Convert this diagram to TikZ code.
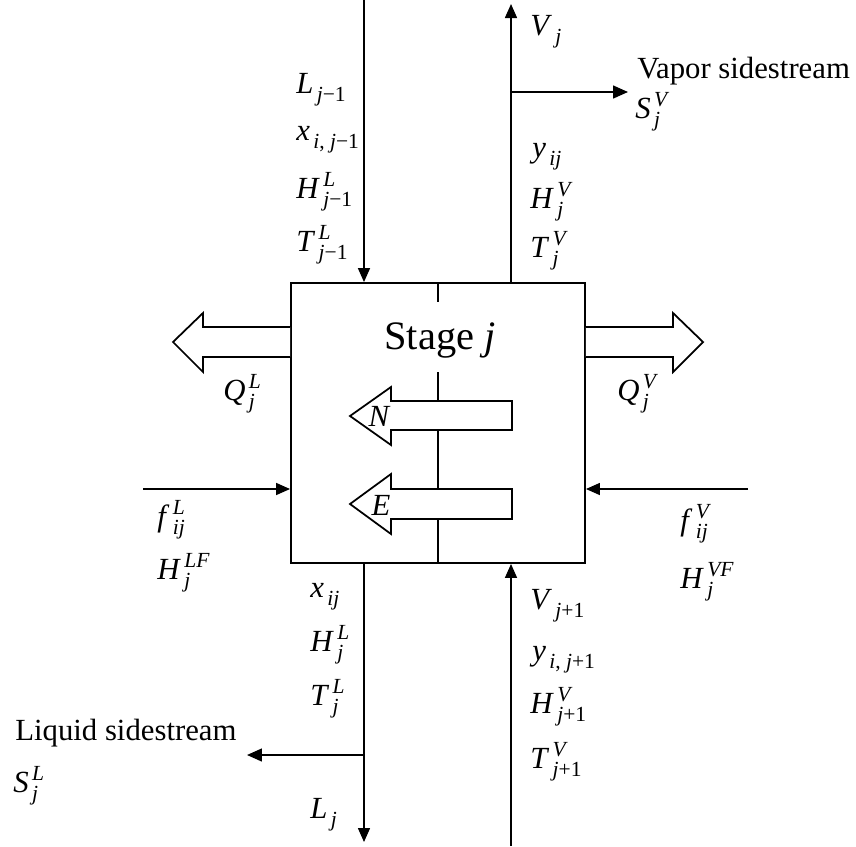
\documentclass[tikz,border=0pt]{standalone}
\usepackage{amsmath}
\usepackage{fontspec}
\setmainfont{Liberation Serif}
\usetikzlibrary{positioning, arrows.meta}

% italic symbol with sub- and superscript, set in the text font
\newcommand{\sym}[3]{$\text{\textit{#1}}\mkern2mu^{\text{#3}}_{\text{#2}}$}

\begin{document}
\begin{tikzpicture}[
  x=0.02cm, y=-0.02cm,
  >={Triangle[length=0.28cm, width=0.24cm]},
  lbl/.style     ={anchor=base west, inner sep=0pt, font=\fontsize{17.5}{20}\selectfont},
  stagebox/.style={draw, line width=1.1pt, minimum width=5.88cm, minimum height=5.6cm,
                   inner sep=0pt},
  flow/.style    ={->, line width=0.85pt},
  heat/.style    ={draw, line width=1pt, fill=white, line join=miter},
]
\useasboundingbox (0,0) rectangle (856,846);

% ---- stage box and its divider ---------------------------------------------
\node[stagebox] (stage) at (438,423) {};
\node[inner sep=0pt, font=\fontsize{23}{26}\selectfont] (title) at (440,340) {Stage \textit{j}};
\coordinate (divtop) at (438,302);
\coordinate (divbot) at (438,372);
\draw[line width=0.85pt] (stage.north -| divtop) -- (divtop);
\draw[line width=0.85pt] (divbot) -- (stage.south -| divbot);

% ---- heat duties (hollow arrows out of the box) -----------------------------
\draw[heat] (stage.west |- 0,327) -- (203,327) -- (203,313) -- (173,342)
            -- (203,372) -- (203,357) -- (stage.west |- 0,357);
\draw[heat] (stage.east |- 0,327) -- (673,327) -- (673,313) -- (703,342)
            -- (673,372) -- (673,357) -- (stage.east |- 0,357);

% ---- mass and energy transfer across the interface -------------------------
\draw[heat] (512,401) -- (391,401) -- (391,387) -- (350,416)
            -- (391,445) -- (391,430) -- (512,430) -- cycle;
\draw[heat] (512,489) -- (391,489) -- (391,474) -- (350,504)
            -- (391,534) -- (391,519) -- (512,519) -- cycle;
\node[inner sep=0pt, font=\fontsize{17.5}{20}\selectfont\itshape] (nflux) at (379,416) {N};
\node[inner sep=0pt, font=\fontsize{17.5}{20}\selectfont\itshape] (eflux) at (381,505) {E};

% ---- stream end points ------------------------------------------------------
\coordinate (Ltop) at (364,0);
\coordinate (Lbot) at (364,842);
\coordinate (Lbr)  at (364,755);
\coordinate (Ltip) at (247,755);
\coordinate (Vtop) at (511,4);
\coordinate (Vbot) at (511,846);
\coordinate (Vbr)  at (511,92);
\coordinate (Vtip) at (628,92);
\coordinate (fL)   at (143,489);
\coordinate (fV)   at (748,489);

% liquid from stage above, vapour to stage above
\draw[flow] (Ltop) -- (Ltop |- stage.north);
\draw[flow] (Vtop |- stage.north) -- (Vtop);
\draw[flow, >={Triangle[length=0.3cm, width=0.26cm]}] (Vbr) -- (Vtip);

% feeds
\draw[flow] (fL) -- (fL -| stage.west);
\draw[flow] (fV) -- (fV -| stage.east);

% liquid to stage below, vapour from stage below
\draw[flow] (Lbot |- stage.south) -- (Lbot);
\draw[flow, >={Triangle[length=0.3cm, width=0.26cm]}] (Lbr) -- (Ltip);
\draw[flow] (Vbot) -- (Vbot |- stage.south);

% ---- labels (placed on their baselines) -------------------------------------
\node[lbl] (Ljm)  at (296,93)  {\sym{L}{\textit{j}−1}{}};
\node[lbl] (xjm)  at (296,140) {\sym{x}{\textit{i}, \textit{j}−1}{}};
\node[lbl] (HLjm) at (296,198) {\sym{H}{\textit{j}−1}{\textit{L}}};
\node[lbl] (TLjm) at (296,251) {\sym{T}{\textit{j}−1}{\textit{L}}};

\node[lbl] (Vj)   at (530,35)  {\sym{V}{\textit{j}}{}};
\node[lbl] (yij)  at (532,157) {\sym{y}{\textit{ij}}{}};
\node[lbl] (HVj)  at (530,208) {\sym{H}{\textit{j}}{\textit{V}}};
\node[lbl] (TVj)  at (530,257) {\sym{T}{\textit{j}}{\textit{V}}};

\node[lbl] (vside) at (637,78)  {Vapor sidestream};
\node[lbl] (SVj)   at (635,118) {\sym{S}{\textit{j}}{\textit{V}}};

\node[lbl] (QLj)  at (223,400) {\sym{Q}{\textit{j}}{\textit{L}}};
\node[lbl] (QVj)  at (617,400) {\sym{Q}{\textit{j}}{\textit{V}}};

\node[lbl] (fLij) at (157,526) {\sym{f}{\textit{ij}}{\textit{L}}};
\node[lbl] (HLF)  at (157,579) {\sym{H}{\textit{j}}{\textit{LF}}};
\node[lbl] (fVij) at (680,530) {\sym{f}{\textit{ij}}{\textit{V}}};
\node[lbl] (HVF)  at (680,588) {\sym{H}{\textit{j}}{\textit{VF}}};

\node[lbl] (xij)  at (310,597) {\sym{x}{\textit{ij}}{}};
\node[lbl] (HLj)  at (310,651) {\sym{H}{\textit{j}}{\textit{L}}};
\node[lbl] (TLj)  at (310,705) {\sym{T}{\textit{j}}{\textit{L}}};
\node[lbl] (Lj)   at (310,818) {\sym{L}{\textit{j}}{}};

\node[lbl] (lside) at (15,740) {Liquid sidestream};
\node[lbl] (SLj)   at (13,792) {\sym{S}{\textit{j}}{\textit{L}}};

\node[lbl] (Vjp)  at (530,609) {\sym{V}{\textit{j}+1}{}};
\node[lbl] (yijp) at (532,660) {\sym{y}{\textit{i}, \textit{j}+1}{}};
\node[lbl] (HVjp) at (530,713) {\sym{H}{\textit{j}+1}{\textit{V}}};
\node[lbl] (TVjp) at (530,768) {\sym{T}{\textit{j}+1}{\textit{V}}};
\end{tikzpicture}
\end{document}
